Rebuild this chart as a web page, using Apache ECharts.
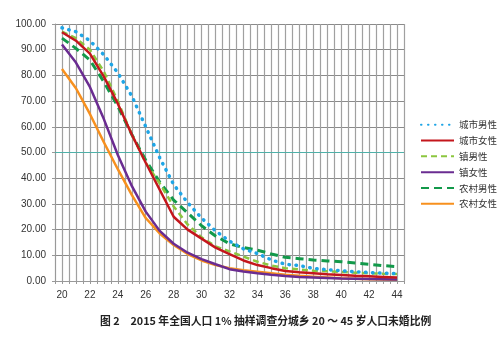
<!DOCTYPE html>
<html>
<head>
<meta charset="utf-8">
<script src="https://cdn.jsdelivr.net/npm/echarts@6/dist/echarts.min.js"></script>
<style>
html,body{margin:0;padding:0;background:#fff;}
#c{width:500px;height:337px;}
</style>
</head>
<body>
<div id="c"></div>
<script>
var ages = [20,21,22,23,24,25,26,27,28,29,30,31,32,33,34,35,36,37,38,39,40,41,42,43,44];
var seriesNames = ['城市男性','城市女性','镇男性','镇女性','农村男性','农村女性'];
var cityMale   = [98.5,97,93.5,88,81,72,60,48,37.5,30.5,24.5,19.5,15.5,12.5,10.7,8.2,6.5,6,4.9,4.4,4,3.6,3.3,3,2.9];
var cityFemale = [96.8,93.5,88.5,79.5,69,57,46,35.5,25,20,16.5,13,10.5,8,6.2,5,3.9,3.4,3,2.6,2.3,2,1.8,1.6,1.4];
var townMale   = [97,94.5,90,81.5,70,57,46,38,29,22,17,13.5,11.5,9.5,7.5,6,5,4.5,4,3.8,3.5,3.2,3,2.8,2.7];
var townFemale = [92,85,75.5,63,49,37,27,19.5,14.5,11,8.5,6.5,4.6,3.7,3,2.4,1.9,1.6,1.4,1.2,1,0.9,0.8,0.7,0.6];
var ruralMale  = [94.5,90.5,86,77.5,68,57,47,38.5,31.5,26.5,21.5,17.5,14.5,13,12,10.5,9.2,8.7,8.2,7.8,7.5,7,6.5,6,5.6];
var ruralFemale= [82.5,75,65,54,43.5,33.5,24.5,18.5,14,10.5,8,6.2,5,4.2,3.6,3,2.4,2,1.7,1.4,1.1,0.9,0.7,0.6,0.5];
var yTicks = [0,10,20,30,40,50,60,70,80,90,100];
var titleText = '图 2　2015 年全国人口 1% 抽样调查分城乡 20 ～ 45 岁人口未婚比例';

function pairs(arr){ return ages.map(function(a,i){ return [a, arr[i]]; }); }

var styles = [
  {color:'#1ea5e6', width:3.5, type:[0.5,6.5], cap:'round'},
  {color:'#c4161c', width:2.5, type:'solid'},
  {color:'#8cc63f', width:2.5, type:[6,4]},
  {color:'#6a2c91', width:2.5, type:'solid'},
  {color:'#12994a', width:3, type:[8,5]},
  {color:'#f7901e', width:2.5, type:'solid'}
];
var dataSets = [cityMale, cityFemale, townMale, townFemale, ruralMale, ruralFemale];

var series = dataSets.map(function(d,i){
  return {
    name: seriesNames[i],
    type: 'line',
    data: pairs(d),
    symbol: 'none',
    showSymbol: false,
    smooth: false,
    lineStyle: styles[i],
    itemStyle: {color: styles[i].color},
    z: 10 - i
  };
});
series.push({
  type:'line', data:[], silent:true,
  markLine:{symbol:'none', silent:true, label:{show:false},
    lineStyle:{color:'#4fb0a8', type:'solid', width:1},
    data:[{yAxis:50}]}
});

var chart = echarts.init(document.getElementById('c'));
chart.setOption({
  animation:false,
  backgroundColor:'#fff',
  grid:{left:55, right:96, top:24, bottom:56},
  graphic:[{type:'text', left:100, top:316, z:100,
    style:{text:titleText, fill:'#222',
      font:'bold 10.8px "Noto Sans CJK SC", sans-serif'}}],
  legend:{
    orient:'vertical', left:415, top:115,
    itemWidth:33, itemHeight:10, itemGap:6.3,
    itemStyle:{opacity:0},
    data: seriesNames,
    textStyle:{fontFamily:'"Noto Sans CJK SC", sans-serif', fontSize:9.5, color:'#333'}
  },
  xAxis:{
    type:'value', min:19.5, max:44.5, interval:0.5,
    axisLine:{show:true, lineStyle:{color:'#999', width:1}},
    axisTick:{show:true, length:3, lineStyle:{color:'#999'}},
    splitLine:{show:true, lineStyle:{color:'#a0a0a0', width:1.2}},
    axisLabel:{margin:9, fontSize:10, color:'#333', fontFamily:'Liberation Sans, Arial, sans-serif',
      formatter:function(v){ return (Math.abs(v-Math.round(v))<1e-6 && Math.round(v)%2===0) ? String(Math.round(v)) : ''; }}
  },
  yAxis:{
    type:'value', min:0, max:100, interval:10,
    axisLine:{show:true, lineStyle:{color:'#999'}},
    axisTick:{show:true, length:3, lineStyle:{color:'#999'}},
    splitLine:{show:true, lineStyle:{color:'#8a8a8a', width:1}},
    axisLabel:{margin:9, fontSize:10, color:'#333', fontFamily:'Liberation Sans, Arial, sans-serif',
      formatter:function(v){ return yTicks.indexOf(v) >= 0 ? v.toFixed(2) : ''; }}
  },
  series: series
});
</script>
</body>
</html>
